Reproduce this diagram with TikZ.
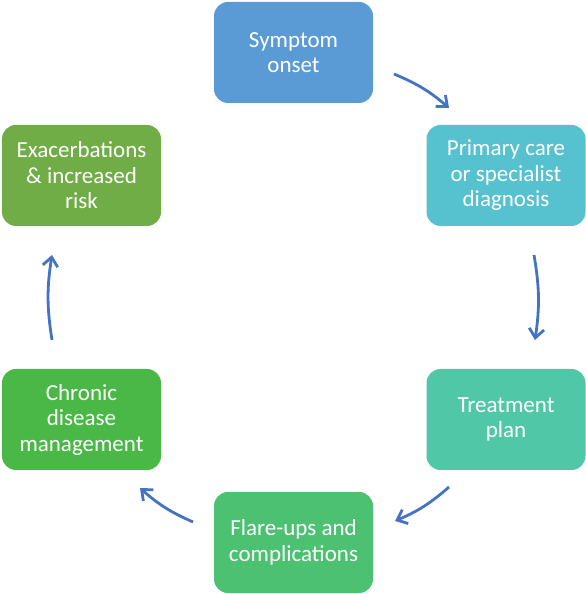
\documentclass[tikz,border=0pt]{standalone}
\usepackage{fontspec}
\setmainfont{Carlito}
\usetikzlibrary{arrows.meta}
\definecolor{cA}{HTML}{5B9BD5}
\definecolor{cB}{HTML}{56C1CF}
\definecolor{cC}{HTML}{50C8A8}
\definecolor{cD}{HTML}{4DC172}
\definecolor{cE}{HTML}{4AB847}
\definecolor{cF}{HTML}{70AD47}
\definecolor{arr}{HTML}{4472C4}
\tikzset{
  box/.style={rounded corners=14bp, minimum width=159bp, minimum height=101bp,
    inner sep=0pt, text=white, align=center,
    font=\fontsize{23bp}{25.5bp}\selectfont},
  flow/.style={draw=arr, line width=2.8bp, bend left=9,
    -{Straight Barb[length=9bp,width=15bp,line width=2.8bp]}}
}
\begin{document}
\begin{tikzpicture}[x=1bp,y=1bp]
\useasboundingbox (0,0) rectangle (586,594);
\node[box, fill=cA] (s) at (293.5,541.5) {Symptom\\onset};
\node[box, fill=cB] (p) at (506,418.5) {Primary care\\or specialist\\diagnosis};
\node[box, fill=cC] (t) at (506,174.5) {Treatment\\plan};
\node[box, fill=cD] (f) at (293.5,51.5) {Flare-ups and\\complications};
\node[box, fill=cE] (c) at (81.5,174.5) {Chronic\\disease\\management};
\node[box, fill=cF] (e) at (81.5,418.5) {Exacerbations\\\& increased\\risk};
\coordinate (a1s) at (394,520); \coordinate (a1e) at (449,486);
\coordinate (a2s) at (534,339); \coordinate (a2e) at (535,254);
\coordinate (a3s) at (449,107); \coordinate (a3e) at (395,73);
\coordinate (a4s) at (193,72);  \coordinate (a4e) at (140,106);
\coordinate (a5s) at (52,254);  \coordinate (a5e) at (52,339);
\draw[flow] (a1s) to (a1e);
\draw[flow] (a2s) to (a2e);
\draw[flow] (a3s) to (a3e);
\draw[flow] (a4s) to (a4e);
\draw[flow] (a5s) to (a5e);
\end{tikzpicture}
\end{document}
